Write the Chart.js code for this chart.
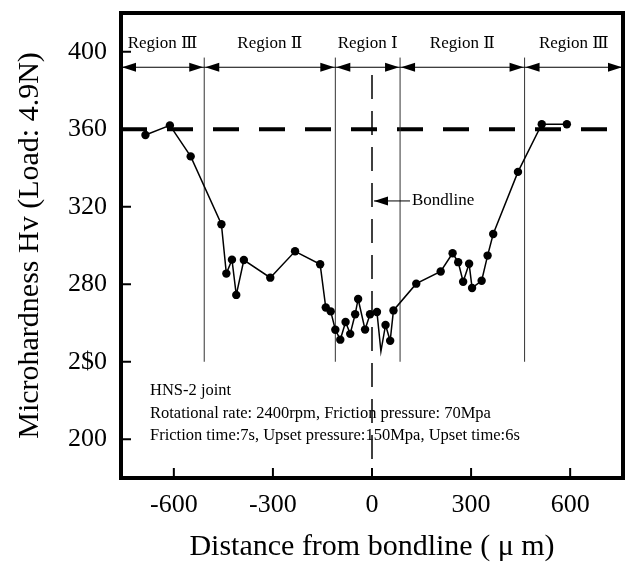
<!DOCTYPE html>
<html>
<head>
<meta charset="utf-8">
<script src="https://cdn.jsdelivr.net/npm/chart.js@4.4.0/dist/chart.umd.min.js"></script>
<style>
  html, body { margin: 0; padding: 0; background: #fff; }
  #wrap { width: 630px; height: 567px; }
</style>
</head>
<body>
<div id="wrap"><canvas id="hvChart" width="630" height="567"></canvas></div>
<script>
// Hardness profile across the bondline
const distance = [-686, -612, -549, -456, -441, -424, -411, -388, -308, -233, -157, -140, -125, -111, -96, -80, -66, -51, -42, -21, -6, 15, 27, 41, 55, 65, 134, 208, 244, 261, 276, 294, 303, 332, 350, 367, 442, 514, 590];
const hardness = [357, 362, 346, 311, 285.5, 292.7, 274.5, 292.5, 283.4, 297, 290.3, 268, 266, 256.5, 251.4, 260.5, 254.4, 264.5, 272.4, 256.6, 264.5, 265.7, 245.4, 259, 250.8, 266.5, 280.3, 286.6, 296, 291.4, 281.3, 290.6, 278.1, 281.8, 294.8, 305.9, 338, 362.6, 362.6];

const xTicks = [-600, -300, 0, 300, 600];
const yTicks = [200, 240, 280, 320, 360, 400];
const yTickLabels = ['200', '2$0', '280', '320', '360', '400'];

// region borders (um) and names
const regionBounds = [-760, -508, -111, 85, 462, 760];
const regionNames = ['Region Ⅲ', 'Region Ⅱ', 'Region Ⅰ', 'Region Ⅱ', 'Region Ⅲ'];
const baseHardness = 360;
const notes = [
  'HNS-2 joint',
  'Rotational rate: 2400rpm, Friction pressure: 70Mpa',
  'Friction time:7s, Upset pressure:150Mpa, Upset time:6s'
];

const serif = "'Liberation Serif', 'Times New Roman', serif";

function arrowHead(ctx, x, y, dir) {
  // dir = -1 points left, 1 points right
  ctx.beginPath();
  ctx.moveTo(x, y);
  ctx.lineTo(x - dir * 14, y - 4.5);
  ctx.lineTo(x - dir * 14, y + 4.5);
  ctx.closePath();
  ctx.fill();
}

const decorations = {
  id: 'decorations',
  beforeDatasetsDraw(chart) {
    const ctx = chart.ctx;
    const xs = chart.scales.x, ys = chart.scales.y;
    const area = chart.chartArea;
    ctx.save();
    ctx.strokeStyle = '#000';
    ctx.fillStyle = '#000';

    // base metal hardness line
    ctx.lineWidth = 4;
    ctx.setLineDash([26, 20]);
    ctx.beginPath();
    ctx.moveTo(area.left, ys.getPixelForValue(baseHardness));
    ctx.lineTo(area.right, ys.getPixelForValue(baseHardness));
    ctx.stroke();

    // bondline
    ctx.lineWidth = 1.5;
    ctx.setLineDash([24, 12]);
    ctx.beginPath();
    ctx.moveTo(xs.getPixelForValue(0), ys.getPixelForValue(388));
    ctx.lineTo(xs.getPixelForValue(0), area.bottom);
    ctx.stroke();
    ctx.setLineDash([]);

    // region borders
    ctx.lineWidth = 1;
    ctx.strokeStyle = '#333';
    for (let i = 1; i < regionBounds.length - 1; i++) {
      const px = xs.getPixelForValue(regionBounds[i]);
      ctx.beginPath();
      ctx.moveTo(px, ys.getPixelForValue(397));
      ctx.lineTo(px, ys.getPixelForValue(240));
      ctx.stroke();
    }

    // double arrows and names
    const ay = ys.getPixelForValue(392);
    ctx.strokeStyle = '#000';
    ctx.font = "17px 'Liberation Serif', 'DejaVu Serif', 'Noto Sans CJK JP', serif";
    ctx.textAlign = 'center';
    ctx.textBaseline = 'middle';
    for (let i = 0; i < regionNames.length; i++) {
      const x1 = xs.getPixelForValue(regionBounds[i]);
      const x2 = xs.getPixelForValue(regionBounds[i + 1]);
      ctx.beginPath();
      ctx.moveTo(x1, ay);
      ctx.lineTo(x2, ay);
      ctx.stroke();
      arrowHead(ctx, x1 + 1, ay, -1);
      arrowHead(ctx, x2 - 1, ay, 1);
      const mid = (regionBounds[i] + regionBounds[i + 1]) / 2;
      ctx.fillText(regionNames[i], xs.getPixelForValue(mid), ys.getPixelForValue(404));
    }

    // bondline label
    const by = ys.getPixelForValue(323);
    const bx = xs.getPixelForValue(0) + 2;
    ctx.beginPath();
    ctx.moveTo(bx, by);
    ctx.lineTo(bx + 36, by);
    ctx.stroke();
    arrowHead(ctx, bx, by, -1);
    ctx.textAlign = 'left';
    ctx.fillText('Bondline', bx + 38, by);

    // process notes
    ctx.font = '16.5px ' + serif;
    notes.forEach((t, i) => {
      ctx.fillText(t, area.left + 29, ys.getPixelForValue(225) + i * 22.5);
    });
    ctx.restore();
  },
  afterDraw(chart) {
    const ctx = chart.ctx;
    const xs = chart.scales.x, ys = chart.scales.y;
    const area = chart.chartArea;
    ctx.save();
    ctx.strokeStyle = '#000';
    ctx.lineWidth = 2;
    yTicks.forEach(v => {
      const py = ys.getPixelForValue(v);
      ctx.beginPath();
      ctx.moveTo(area.left, py);
      ctx.lineTo(area.left + 10, py);
      ctx.stroke();
    });
    xTicks.forEach(v => {
      const px = xs.getPixelForValue(v);
      ctx.beginPath();
      ctx.moveTo(px, area.bottom);
      ctx.lineTo(px, area.bottom - 10);
      ctx.stroke();
    });
    ctx.lineWidth = 4;
    ctx.strokeRect(area.left, area.top, area.right - area.left, area.bottom - area.top);
    ctx.restore();
  }
};

const ctx = document.getElementById('hvChart').getContext('2d');
new Chart(ctx, {
  type: 'line',
  data: {
    datasets: [{
      data: distance.map((d, i) => ({ x: d, y: hardness[i] })),
      borderColor: '#000',
      backgroundColor: '#000',
      borderWidth: 1.5,
      pointRadius: c => (distance[c.dataIndex] === 27 ? 0 : 4.2),
      pointBorderWidth: 0,
      tension: 0,
      fill: false
    }]
  },
  options: {
    responsive: false,
    animation: false,
    layout: { padding: { top: 13, right: 7, left: 0, bottom: 0 } },
    plugins: { legend: { display: false }, tooltip: { enabled: false } },
    scales: {
      x: {
        type: 'linear',
        min: -760,
        max: 760,
        afterFit: s => { s.height = 89; s.paddingLeft = 0; s.paddingRight = 0; },
        afterBuildTicks: s => { s.ticks = xTicks.map(v => ({ value: v })); },
        grid: { display: false, drawTicks: false },
        border: { display: false },
        ticks: { color: '#000', font: { family: serif, size: 26 }, padding: 12, maxRotation: 0, autoSkip: false },
        title: { display: true, text: 'Distance from bondline ( μ m)', color: '#000', font: { family: serif, size: 30 }, padding: { top: 0, bottom: 2 } }
      },
      y: {
        type: 'linear',
        min: 180,
        max: 420,
        afterFit: s => { s.width = 121; s.paddingTop = 0; s.paddingBottom = 0; },
        afterBuildTicks: s => { s.ticks = yTicks.map(v => ({ value: v })); },
        grid: { display: false, drawTicks: false },
        border: { display: false },
        ticks: {
          color: '#000', font: { family: serif, size: 26 }, padding: 14, autoSkip: false,
          callback: v => yTickLabels[yTicks.indexOf(v)]
        },
        title: { display: true, text: 'Microhardness Hv (Load: 4.9N)', color: '#000', font: { family: serif, size: 30 }, padding: { top: 12, bottom: 0 } }
      }
    }
  },
  plugins: [decorations]
});
</script>
</body>
</html>
